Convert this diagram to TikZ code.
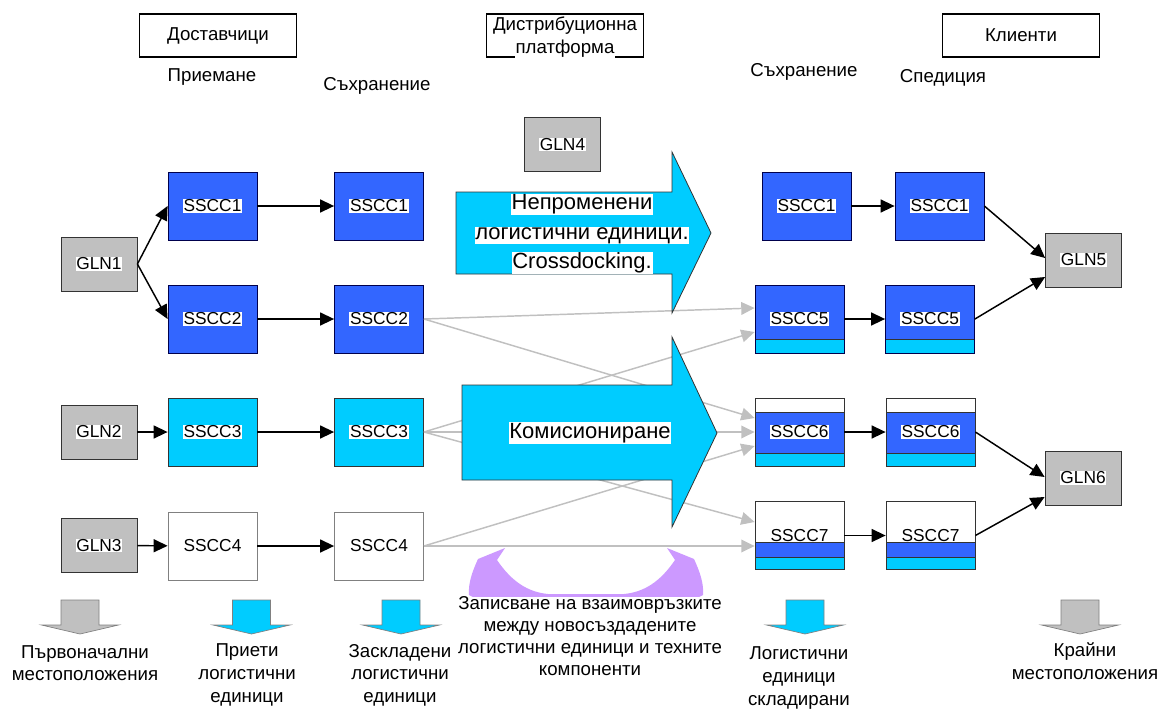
\documentclass[tikz,border=0pt]{standalone}
\usepackage{fontspec}
\setmainfont{Liberation Sans}
\usetikzlibrary{arrows.meta,calc}
\definecolor{blu}{HTML}{3366FF}
\definecolor{cya}{HTML}{00CCFF}
\definecolor{gry}{HTML}{C0C0C0}
\definecolor{pur}{HTML}{CC99FF}
\definecolor{edge}{HTML}{333333}
\newcommand\hl[1]{{\setlength{\fboxsep}{0.6pt}\colorbox{white}{#1}}}
\newcommand\darr[2]{\filldraw[fill=#2, draw=gray, line width=0.5pt] ({#1-19},600) -- ({#1+19},600) -- ({#1+19},625) -- ({#1+38.5},625) -- (#1,634) -- ({#1-38.5},625) -- ({#1-19},625) -- cycle;}
\begin{document}
\begin{tikzpicture}[x=0.75pt,y=-0.75pt,
  txt/.style={font=\fontsize{14}{17}\selectfont, inner sep=0pt, align=center},
  hdr/.style={draw=black, line width=0.8pt, minimum width=117.5pt, minimum height=32.25pt, inner sep=0pt, font=\fontsize{14}{17}\selectfont, align=center},
  gln/.style={draw=edge, fill=gry, line width=0.6pt, minimum width=57pt, minimum height=40.5pt, inner sep=0pt, font=\fontsize{13}{15}\selectfont},
  sscc/.style={draw=edge, line width=0.6pt, minimum width=66.75pt, minimum height=51pt, inner sep=0pt, font=\fontsize{13}{15}\selectfont},
  blueS/.style={sscc, fill=blu, draw=blue!30!black},
  cyanS/.style={sscc, fill=cya},
  whiteS/.style={sscc, fill=white, draw=gray},
  sfive/.style={sscc, fill=blu, draw=blue!30!black, path picture={
      \filldraw[fill=cya, draw=edge, line width=0.6pt] (path picture bounding box.south west) rectangle ([yshift=10.5pt]path picture bounding box.south east);}},
  ssix/.style={sscc, fill=blu, draw=edge, path picture={
      \filldraw[fill=cya, draw=edge, line width=0.6pt] (path picture bounding box.south west) rectangle ([yshift=9.75pt]path picture bounding box.south east);
      \filldraw[fill=white, draw=edge, line width=0.6pt] (path picture bounding box.north west) rectangle ([yshift=-10.5pt]path picture bounding box.north east);}},
  sseven/.style={sscc, fill=white, draw=edge, path picture={
      \filldraw[fill=blu, draw=edge, line width=0.6pt] ([yshift=9pt]path picture bounding box.south west) rectangle ([yshift=20.25pt]path picture bounding box.south east);
      \filldraw[fill=cya, draw=edge, line width=0.6pt] (path picture bounding box.south west) rectangle ([yshift=9pt]path picture bounding box.south east);}},
  conn/.style={draw=black, line width=1.1pt, -{Triangle[length=10.5pt,width=9.75pt]}},
  gconn/.style={draw=gry, line width=1.1pt, -{Triangle[length=10pt,width=9.5pt]}},
  bigarr/.style={fill=cya, draw=edge, line width=0.6pt}
]
\useasboundingbox (0,0) rectangle (1162,711);

% headers
\node[hdr] (h1) at (218,35.5) {Доставчици};
\node[hdr] (h2) at (565,35.5) {};
\node[txt, font=\fontsize{14}{17.25}\selectfont] (h2t) at (565,37) {\hl{Дистрибуционна}\\\hl{платформа}};
\node[hdr] (h3) at (1021,35.5) {Клиенти};

\node[txt] (l1) at (212,77) {Приемане};
\node[txt] (l2) at (377,86) {Съхранение};
\node[txt] (l3) at (804,72) {Съхранение};
\node[txt] (l4) at (943,78) {Спедиция};

% GLN
\node[gln] (g1) at (99,264) {\hl{GLN1}};
\node[gln] (g2) at (99,432) {\hl{GLN2}};
\node[gln] (g3) at (99,545.5) {\hl{GLN3}};
\node[gln] (g4) at (562.5,144.5) {\hl{GLN4}};
\node[gln] (g5) at (1083.5,260) {\hl{GLN5}};
\node[gln] (g6) at (1083,478) {\hl{GLN6}};

% column 1
\node[blueS] (a1) at (212.5,206) {\hl{SSCC1}};
\node[blueS] (a2) at (212.5,319) {\hl{SSCC2}};
\node[cyanS] (a3) at (212.5,432) {\hl{SSCC3}};
\node[whiteS] (a4) at (212.5,546) {SSCC4};
% column 2
\node[blueS] (b1) at (379,206) {\hl{SSCC1}};
\node[blueS] (b2) at (379,319) {\hl{SSCC2}};
\node[cyanS] (b3) at (379,432) {\hl{SSCC3}};
\node[whiteS] (b4) at (379,546) {SSCC4};
% column 3
\node[blueS] (c1) at (806.5,206) {\hl{SSCC1}};
\node[sfive] (c5) at (799.5,319) {\hl{SSCC5}};
\node[ssix] (c6) at (799.5,432) {\hl{SSCC6}};
\node[sseven] (c7) at (799.5,535.5) {SSCC7};
% column 4
\node[blueS] (d1) at (939.5,206) {\hl{SSCC1}};
\node[sfive] (d5) at (930,319) {\hl{SSCC5}};
\node[ssix] (d6) at (930.5,432) {\hl{SSCC6}};
\node[sseven] (d7) at (930.5,535.5) {SSCC7};

% black connectors
\draw[conn] (g1.east) -- (a1.west);
\draw[conn] (g1.east) -- (a2.west);
\draw[conn] (g2) -- (a3);
\draw[conn] (g3) -- (a4);
\draw[conn] (a1) -- (b1);
\draw[conn] (a2) -- (b2);
\draw[conn] (a3) -- (b3);
\draw[conn] (a4) -- (b4);
\draw[conn] (c1) -- (d1);
\draw[conn] (c5) -- (d5);
\draw[conn] (c6) -- (d6);
\draw[conn] (c7) -- (d7);
\draw[conn] (d1.east) -- ($(g5.west)+(0,-2)$);
\draw[conn] (d5.east) -- ($(g5.west)+(0,17)$);
\draw[conn] (d6.east) -- ($(g6.west)+(0,-1)$);
\draw[conn] (d7.east) -- ($(g6.west)+(0,19)$);

% gray connectors
\draw[gconn] (b2.east) -- ($(c5.west)+(0,-11)$);
\draw[gconn] (b2.east) -- ($(c6.west)+(0,-14)$);
\draw[gconn] (b3.east) -- ($(c5.west)+(0,13)$);
\draw[gconn] (b3.east) -- (c6.west);
\draw[gconn] (b3.east) -- ($(c7.west)+(0,-13.5)$);
\draw[gconn] (b4.east) -- ($(c6.west)+(0,14)$);
\draw[gconn] (b4.east) -- ($(c7.west)+(0,10.5)$);

% big arrows
\filldraw[bigarr] (456,192) -- (672,192) -- (672,152) -- (711,233) -- (672,313) -- (672,274) -- (456,274) -- cycle;
\node[txt, font=\fontsize{16.5}{22}\selectfont] (ar1) at (582,234) {\hl{Непроменени}\\\hl{логистични единици.}\\\hl{Crossdocking.}};
\filldraw[bigarr] (462,385) -- (672,385) -- (672,337) -- (717,433) -- (672,527) -- (672,480) -- (462,480) -- cycle;
\node[txt, font=\fontsize{16.5}{22}\selectfont] (ar2) at (590,433) {\hl{Комисиониране}};

% purple curved arrows
\fill[pur] (478,559) -- (505,548) -- (497,560) .. controls (512,582) and (528,592) .. (548,594) -- (624,594) .. controls (644,592) and (660,582) .. (675,560) -- (667,548) -- (694,559) .. controls (700,572) and (704,584) .. (703,595) .. controls (680,608) and (640,612) .. (586,612) .. controls (532,612) and (492,608) .. (469,595) .. controls (468,584) and (472,572) .. (478,559) -- cycle;

% bottom arrows
\darr{80}{gry}
\darr{251.5}{cya}
\darr{401}{cya}
\darr{805}{cya}
\darr{1080}{gry}

% bottom texts
\node[txt] (bt1) at (85,663) {Първоначални\\местоположения};
\node[txt] (bt2) at (247,675) {Приети\\логистични\\единици};
\node[txt] (bt3) at (400,675) {Заскладени\\логистични\\единици};
\node[txt, fill=white, font=\fontsize{14}{16.3}\selectfont] (bt4) at (590,636) {Записване на взаимовръзките\\между новосъздадените\\логистични единици и техните\\компоненти};
\node[txt] (bt5) at (799,678) {Логистични\\единици\\складирани};
\node[txt] (bt6) at (1085,661) {Крайни\\местоположения};
\end{tikzpicture}
\end{document}
